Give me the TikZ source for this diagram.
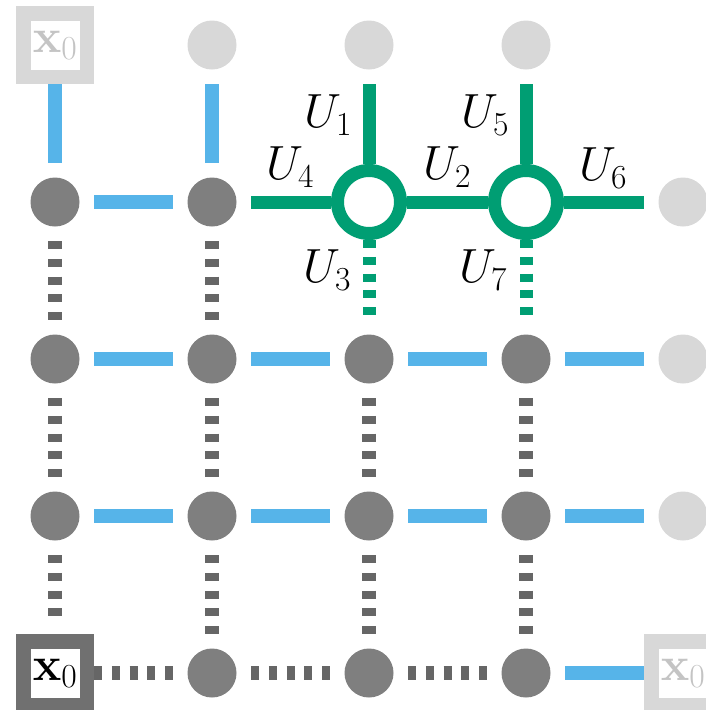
\RequirePackage{fix-cm}
\documentclass[tikz,border=0pt]{standalone}

\definecolor{skyblue}{HTML}{56B4E9}
\definecolor{bluegreen}{HTML}{009E73}
\definecolor{darkdot}{HTML}{7F7F7F}
\definecolor{dashgray}{HTML}{666666}
\definecolor{faint}{HTML}{D8D8D8}
\definecolor{fainttext}{HTML}{C4C4C4}
\definecolor{darkbox}{HTML}{707070}

\tikzset{
  site/.style={circle, fill=darkdot, minimum size=49pt, inner sep=0pt},
  ghost/.style={circle, fill=faint, minimum size=49pt, inner sep=0pt},
  ring/.style={circle, draw=bluegreen, line width=13pt, fill=white, minimum size=63pt, inner sep=0pt},
  anchorbox/.style={rectangle, line width=14.5pt, fill=white, minimum size=63.5pt, inner sep=0pt,
    font=\fontsize{48}{50}\selectfont},
  bond/.style={line width=14pt, skyblue},
  gate/.style={line width=13pt, bluegreen},
  gatedash/.style={line width=13pt, bluegreen, dash pattern=on 8pt off 8.75pt},
  link/.style={line width=14pt, dashgray, dash pattern=on 8pt off 9.75pt},
  gapA/.style={shorten <=14.5pt},
  gapB/.style={shorten >=14.5pt},
  lab/.style={inner sep=0pt, font=\fontsize{48}{50}\selectfont},
}

\begin{document}
\begin{tikzpicture}[x=1pt, y=-1pt]
  \fill[white] (0,0) rectangle (706,710);
  \useasboundingbox (0,0) rectangle (706,710);

  % top row
  \node[anchorbox, draw=faint, text=fainttext] (b00) at (55,45) {$\mathbf{x}_0$};
  \node[ghost] (t1) at (212,45) {};
  \node[ghost] (t2) at (369,45) {};
  \node[ghost] (t3) at (526,45) {};

  % row 1 with the two gates
  \node[site] (c10) at (55,202) {};
  \node[site] (c11) at (212,202) {};
  \node[ring] (g1) at (369,202) {};
  \node[ring] (g2) at (526,202) {};
  \node[ghost] (r1) at (683,202) {};

  % rows 2 and 3
  \foreach \j/\y in {2/359, 3/516} {
    \node[site] (c\j0) at (55,\y) {};
    \node[site] (c\j1) at (212,\y) {};
    \node[site] (c\j2) at (369,\y) {};
    \node[site] (c\j3) at (526,\y) {};
    \node[ghost] (r\j) at (683,\y) {};
  }

  % bottom row
  \node[anchorbox, draw=darkbox, text=black] (b40) at (55,673) {$\mathbf{x}_0$};
  \node[site] (c41) at (212,673) {};
  \node[site] (c42) at (369,673) {};
  \node[site] (c43) at (526,673) {};
  \node[anchorbox, draw=faint, text=fainttext] (b44) at (683,673) {$\mathbf{x}_0$};

  % blue bonds
  \draw[bond, gapB] (b00) -- (c10);
  \draw[bond, gapA, gapB] (t1) -- (c11);
  \draw[bond, gapA, gapB] (c10) -- (c11);
  \foreach \j in {2,3} {
    \draw[bond, gapA, gapB] (c\j0) -- (c\j1);
    \draw[bond, gapA, gapB] (c\j1) -- (c\j2);
    \draw[bond, gapA, gapB] (c\j2) -- (c\j3);
    \draw[bond, gapA, gapB] (c\j3) -- (r\j);
  }
  \draw[bond, gapA] (c43) -- (b44);

  % green gate legs
  \draw[gate, gapA] (t2) -- (g1);
  \draw[gate, gapA] (t3) -- (g2);
  \draw[gate, gapA] (c11) -- (g1);
  \draw[gate] (g1) -- (g2);
  \draw[gate, gapB] (g2) -- (r1);
  \draw[gatedash, shorten >=19.5pt] (g1) -- (c22);
  \draw[gatedash, shorten >=19.5pt] (g2) -- (c23);

  % grey dashed links
  \draw[link, gapA, gapB] (c10) -- (c20);
  \draw[link, gapA, gapB] (c11) -- (c21);
  \foreach \i in {0,1,2,3} {
    \draw[link, gapA, gapB] (c2\i) -- (c3\i);
  }
  \draw[link, gapA, gapB] (c30) -- (b40);
  \draw[link, gapA, gapB] (c31) -- (c41);
  \draw[link, gapA, gapB] (c32) -- (c42);
  \draw[link, gapA, gapB] (c33) -- (c43);
  \draw[link, gapB] (b40) -- (c41);
  \draw[link, gapA, gapB] (c41) -- (c42);
  \draw[link, gapA, gapB] (c42) -- (c43);

  % gate labels
  \node[lab] (u1) at (328,115) {$U_1$};
  \node[lab] (u5) at (485,115) {$U_5$};
  \node[lab] (u4) at (290,167) {$U_4$};
  \node[lab] (u2) at (447,167) {$U_2$};
  \node[lab] (u6) at (603,168) {$U_6$};
  \node[lab] (u3) at (327,270) {$U_3$};
  \node[lab] (u7) at (483,270) {$U_7$};
\end{tikzpicture}
\end{document}
